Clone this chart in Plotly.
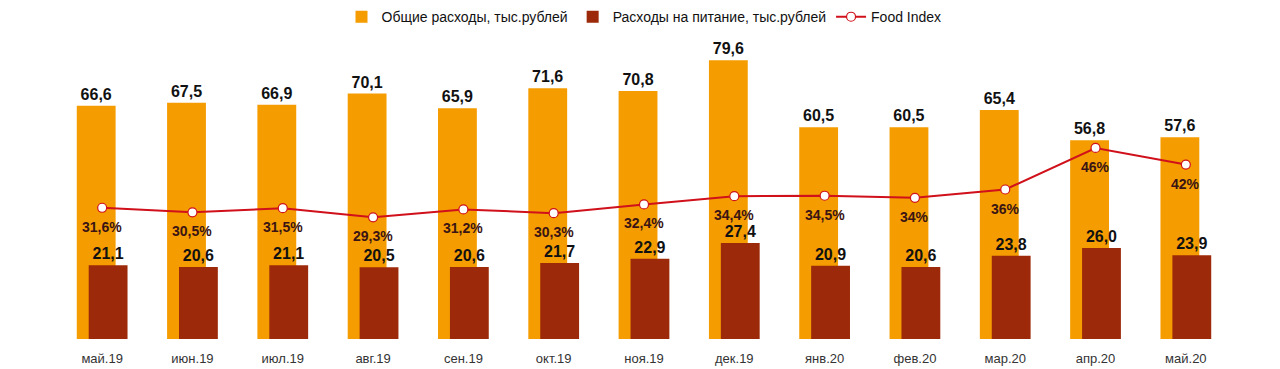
import plotly.graph_objects as go

categories = ["май.19", "июн.19", "июл.19", "авг.19", "сен.19", "окт.19", "ноя.19",
              "дек.19", "янв.20", "фев.20", "мар.20", "апр.20", "май.20"]
total_exp = [66.6, 67.5, 66.9, 70.1, 65.9, 71.6, 70.8, 79.6, 60.5, 60.5, 65.4, 56.8, 57.6]
food_exp = [21.1, 20.6, 21.1, 20.5, 20.6, 21.7, 22.9, 27.4, 20.9, 20.6, 23.8, 26.0, 23.9]
food_index = [31.6, 30.5, 31.5, 29.3, 31.2, 30.3, 32.4, 34.4, 34.5, 34, 36, 46, 42]
food_index_labels = ["31,6%", "30,5%", "31,5%", "29,3%", "31,2%", "30,3%", "32,4%",
                     "34,4%", "34,5%", "34%", "36%", "46%", "42%"]

def fmt(v):
    return "<b>" + f"{v:.1f}".replace(".", ",") + "</b>"

FONT = "Liberation Sans, Arial, sans-serif"
ORANGE = "#F59C00"
DARKRED = "#9C2A0A"
LINE = "#D0101A"

fig = go.Figure()
fig.add_trace(go.Bar(
    x=categories, y=total_exp, name="Общие расходы, тыс.рублей",
    marker=dict(color=ORANGE, line=dict(width=0)),
    width=0.43, offset=-0.281,
    text=[fmt(v) for v in total_exp], textposition="outside",
    textfont=dict(family=FONT, size=16, color="#111111"),
    cliponaxis=False,
))
fig.add_trace(go.Bar(
    x=categories, y=food_exp, name="Расходы на питание, тыс.рублей",
    marker=dict(color=DARKRED, line=dict(width=0)),
    width=0.43, offset=-0.149,
    text=[fmt(v) for v in food_exp], textposition="outside",
    textfont=dict(family=FONT, size=16, color="#111111"),
    cliponaxis=False,
))
fig.add_trace(go.Scatter(
    x=categories, y=food_index, name="Food Index", yaxis="y2",
    mode="lines+markers",
    line=dict(color=LINE, width=2),
    marker=dict(size=9, color="white", line=dict(color=LINE, width=1.2)),
    cliponaxis=False,
))
for c, v, t in zip(categories, food_index, food_index_labels):
    fig.add_annotation(x=c, y=v, xref="x", yref="y2", text=f"<b>{t}</b>",
                       showarrow=False, yshift=-19,
                       font=dict(family=FONT, size=14, color="#3a1414"))

fig.update_layout(
    width=1280, height=369,
    margin=dict(l=57, r=49, t=40, b=30, autoexpand=False),
    barmode="overlay",
    plot_bgcolor="white", paper_bgcolor="white",
    font=dict(family=FONT, size=13, color="#222222"),
    legend=dict(orientation="h", x=0.5, xanchor="center", y=1.13, yanchor="top",
                font=dict(family=FONT, size=14, color="#111111"),
                traceorder="normal"),
    xaxis=dict(type="category", range=[-0.5, 12.5], showgrid=False, showline=False,
               ticks="outside", ticklen=7, tickcolor="rgba(0,0,0,0)",
               tickfont=dict(family=FONT, size=13, color="#333333")),
    yaxis=dict(range=[0, 85.4], visible=False, showgrid=False),
    yaxis2=dict(range=[0, 72], overlaying="y", side="right", visible=False, showgrid=False),
)

fig.write_html("out.html", config={"displayModeBar": False},
               post_script="document.body.style.margin='0';document.body.style.overflow='hidden';")
